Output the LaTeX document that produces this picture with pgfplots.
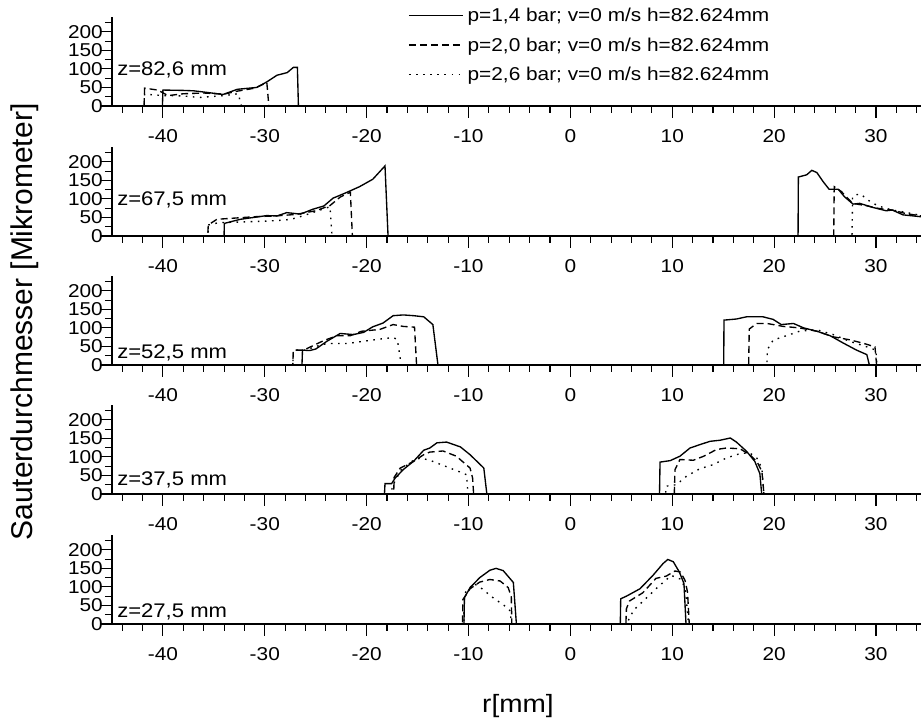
\documentclass[border=0pt]{standalone}
\usepackage{pgfplots}
\pgfplotsset{compat=1.18}
\usepackage{fontspec}
\setmainfont{Liberation Sans}[FakeStretch=1.12]
\newfontfamily\plainfont{Liberation Sans}
\newcommand{\ticksize}{\fontsize{18.6pt}{22pt}\selectfont}
\newcommand{\zsize}{\fontsize{19.7pt}{23pt}\selectfont}
\pgfplotsset{panel/.style={
  width=809pt, height=89pt, scale only axis,
  xmin=-45, xmax=34.42, ymin=0, ymax=240,
  axis x line=bottom, axis y line=left,
  axis line style={-, line width=1.3pt, black},
  xtick={-40,-30,...,30}, minor xtick={-44,-42,...,34},
  ytick={0,50,...,200}, minor ytick={25,75,...,225},
  tick align=outside, major tick length=12pt, minor tick length=7pt,
  every tick/.style={black, line width=1.1pt},
  every minor tick/.style={black, line width=1.1pt},
  tick label style={font=\ticksize},
  /pgf/number format/assume math mode=true,
  xticklabel style={anchor=north, inner sep=0pt, yshift=-11pt},
  yticklabel style={anchor=east, inner sep=0pt, xshift=3pt},
  every axis plot/.append style={line width=1.35pt, black},
  s1/.style={solid},
  s2/.style={dash pattern=on 7pt off 4pt},
  s3/.style={dash pattern=on 1.6pt off 5.5pt},
}}
\begin{document}
\begin{tikzpicture}
\useasboundingbox (0,0) rectangle (921pt,720pt);
% ---------- panel 1: z=82,6 mm
\begin{axis}[panel, at={(112pt,614pt)}, anchor=south west,
  legend style={at={(0.366,1.124)}, anchor=north west, draw=none, fill=none,
    inner sep=0pt, row sep=10.5pt, column sep=2pt, font=\ticksize},
  legend cell align=left,
  legend image code/.code={\draw[#1] (0pt,0pt) -- (54pt,0pt);}]
\addplot[s1] coordinates {(-45,0)(-40.05,0)(-40,43)(-38,42)(-37,41)(-35.5,36)(-34.1,31)(-32.7,45)(-30.8,50)(-29.8,65)(-28.8,83)(-27.8,90)(-27.2,104)(-26.8,104)(-26.7,0)(35,0)};
\addlegendentry{p=1,4 bar; v=0 m/s h=82.624mm}
\addplot[s2] coordinates {(-45,0)(-41.85,0)(-41.8,48)(-40.5,43)(-39.5,28)(-38,33)(-36,35)(-34,32)(-32.7,40)(-31,48)(-29.8,63)(-29.6,0)(35,0)};
\addlegendentry{p=2,0 bar; v=0 m/s h=82.624mm}
\addplot[s3] coordinates {(-45,0)(-41.85,0)(-41.8,32)(-40,28)(-38,27)(-36.4,23)(-34,28)(-32.6,33)(-32.3,0)(35,0)};
\addlegendentry{p=2,6 bar; v=0 m/s h=82.624mm}
\node[anchor=west, inner sep=0pt, font=\zsize] at (axis cs:-44.5,97) {z=82,6 mm};
\end{axis}
% ---------- panel 2: z=67,5 mm
\begin{axis}[panel, at={(112pt,484pt)}, anchor=south west]
\addplot[s1] coordinates {(-45,0)(-34.0,0)(-33.97,34)(-32.4,45)(-31.1,50)(-29.8,55)(-28.8,54)(-27.85,63)(-26.5,59)(-25.3,72)(-24.2,81)(-23.3,102)(-22,117)(-20.7,133)(-19.4,153)(-18.2,189)(-17.9,0)
 (22.35,0)(22.38,159)(23.2,165)(23.7,177)(24.2,171)(24.8,147)(25.4,126)(26.3,126)(26.9,106)(27.75,86)(28.4,88)(29.7,77)(31.0,68)(31.6,70)(32.65,57)(34.4,52)(35,51)};
\addplot[s2] coordinates {(-45,0)(-35.6,0)(-35.55,30)(-34.7,45)(-33.1,48)(-31,52)(-29,54)(-27,58)(-25,68)(-23.6,82)(-22.6,105)(-21.6,118)(-21.4,0)
 (25.85,0)(25.9,133)(26.6,120)(27.7,88)(29,82)(30.3,74)(31.6,70)(33,60)(35,52)};
\addplot[s3] coordinates {(-45,0)(-35.6,0)(-35.5,30)(-34.5,36)(-32,38)(-30,40)(-28,43)(-27,48)(-25.3,63)(-23.6,79)(-23.4,0)
 (27.65,0)(27.7,106)(28,111)(28.5,113)(29.2,97)(30.2,81)(31.6,70)(32.9,64)(35,52)};
\node[anchor=west, inner sep=0pt, font=\zsize] at (axis cs:-44.5,97) {z=67,5 mm};
\end{axis}
% ---------- panel 3: z=52,5 mm
\begin{axis}[panel, at={(112pt,355pt)}, anchor=south west]
\addplot[s1] coordinates {(-45,0)(-26.35,0)(-26.3,40)(-25.6,39)(-25,43)(-23.9,64)(-22.6,85)(-21.3,82)(-20.3,88)(-19.4,103)(-18.4,113)(-17.4,133)(-16.4,135)(-15.4,133)(-14.4,130)(-13.5,109)(-13.0,0)
 (15.05,0)(15.08,121)(16.3,124)(17.3,130)(18.9,130)(19.9,123)(20.7,109)(21.9,112)(22.9,100)(24.2,91)(25.5,79)(26.8,59)(28.1,40)(29.1,28)(29.35,0)(35,0)};
\addplot[s2] coordinates {(-45,0)(-27.25,0)(-27.2,40)(-26.2,40)(-24.2,66)(-22.9,79)(-21.6,79)(-20.5,91)(-18.7,96)(-17.4,109)(-16.4,104)(-15.3,102)(-15.1,0)
 (17.5,0)(17.56,97)(18.3,112)(19.3,112)(20.9,104)(22.5,100)(24.2,91)(25.8,76)(27.4,68)(28.7,59)(29.9,49)(30.06,0)(35,0)};
\addplot[s3] coordinates {(-45,0)(-27.25,0)(-27.2,40)(-26,40)(-25,50)(-23.9,58)(-21.9,58)(-20,65)(-18.7,70)(-17.4,74)(-17.0,69)(-16.6,0)
 (19.3,0)(19.33,41)(19.9,67)(21.2,79)(22.5,91)(24.2,95)(25.8,82)(27.4,64)(29.1,49)(30.0,40)(30.1,0)(35,0)};
\node[anchor=west, inner sep=0pt, font=\zsize] at (axis cs:-44.5,32) {z=52,5 mm};
\end{axis}
% ---------- panel 4: z=37,5 mm
\begin{axis}[panel, at={(112pt,226pt)}, anchor=south west]
\addplot[s1] coordinates {(-45,0)(-18.25,0)(-18.2,28)(-17.55,28)(-17.2,43)(-16.4,66)(-15.4,88)(-14.4,118)(-13.8,124)(-13.1,138)(-12.15,140)(-10.8,127)(-9.85,106)(-8.5,70)(-8.2,0)
 (8.75,0)(8.8,86)(9.8,90)(10.76,102)(11.74,124)(12.7,133)(13.7,142)(14.7,145)(15.7,151)(16.3,140)(17.3,115)(18.1,88)(18.6,55)(18.78,0)(35,0)};
\addplot[s2] coordinates {(-45,0)(-17.35,0)(-17.3,45)(-16.7,70)(-15.4,88)(-14.4,106)(-13.8,113)(-12.5,116)(-11.2,102)(-9.85,70)(-9.6,43)(-9.5,0)
 (10.2,0)(10.27,66)(10.76,93)(12.07,91)(13.1,102)(14.35,120)(15.3,124)(16.65,122)(17.6,106)(18.3,88)(18.8,61)(19.0,0)(35,0)};
\addplot[s3] coordinates {(-45,0)(-17.55,0)(-17.5,20)(-16.6,66)(-15.4,91)(-14.7,97)(-13.8,91)(-12.2,74)(-10.8,59)(-10.2,52)(-10.05,0)
 (9.35,0)(9.4,21)(10.4,25)(11.4,48)(12.7,68)(14.0,79)(15.3,97)(16.65,109)(17.6,111)(18.3,97)(18.8,70)(19.0,0)(35,0)};
\node[anchor=west, inner sep=0pt, font=\zsize] at (axis cs:-44.5,38) {z=37,5 mm};
\end{axis}
% ---------- panel 5: z=27,5 mm
\begin{axis}[panel, at={(112pt,96pt)}, anchor=south west]
\addplot[s1] coordinates {(-45,0)(-10.45,0)(-10.4,71)(-9.85,98)(-8.9,125)(-7.9,145)(-7.3,150)(-6.6,144)(-5.6,112)(-5.3,0)
 (4.9,0)(4.94,68)(5.5,75)(6.83,95)(8.1,131)(9.1,163)(9.56,174)(10.1,168)(10.7,140)(11.15,109)(11.35,0)(35,0)};
\addplot[s2] coordinates {(-45,0)(-10.6,0)(-10.55,66)(-9.85,95)(-8.9,113)(-7.9,120)(-6.9,116)(-6.1,98)(-5.8,73)(-5.75,0)
 (5.45,0)(5.5,41)(5.8,62)(7.1,84)(8.4,123)(9.4,129)(10.27,143)(10.8,140)(11.25,118)(11.5,86)(11.67,0)(35,0)};
\addplot[s3] coordinates {(-45,0)(-10.45,0)(-10.4,82)(-9.5,109)(-8.9,100)(-7.6,71)(-6.3,46)(-5.9,35)(-5.8,0)
 (5.65,0)(5.7,10)(6.2,37)(7.3,66)(8.6,100)(9.9,131)(10.9,120)(11.3,91)(11.6,0)(35,0)};
\node[anchor=west, inner sep=0pt, font=\zsize] at (axis cs:-44.5,32) {z=27,5 mm};
\end{axis}
\node[font=\plainfont\fontsize{30pt}{34pt}\selectfont, rotate=90] at (25pt,398pt) {Sauterdurchmesser [Mikrometer]};
\node[font=\fontsize{25pt}{29pt}\selectfont] at (518pt,14pt) {r[mm]};
\end{tikzpicture}
\end{document}
